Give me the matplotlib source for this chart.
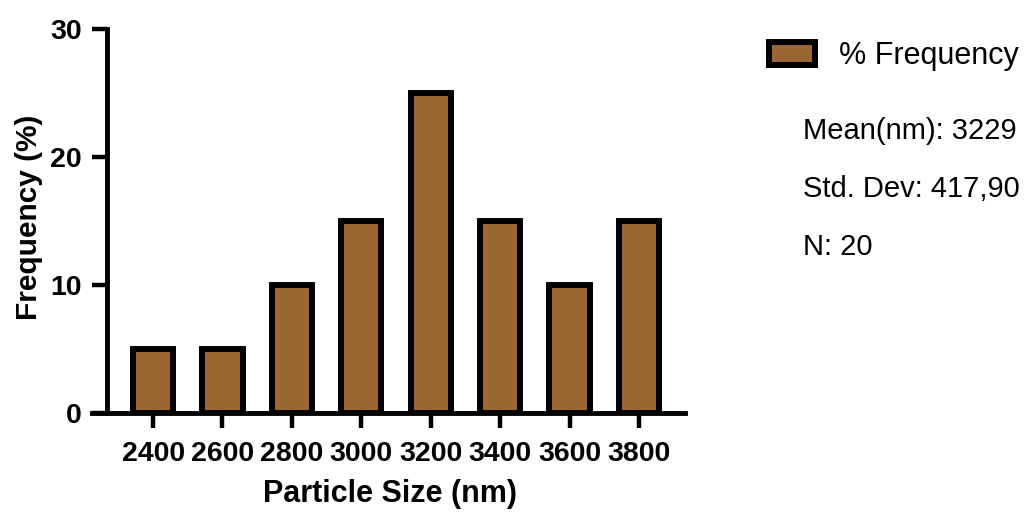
import matplotlib.pyplot as plt

# particle size histogram
sizes = ["2400", "2600", "2800", "3000", "3200", "3400", "3600", "3800"]
freq = [5, 5, 10, 15, 25, 15, 10, 15]
stats = ["Mean(nm): 3229", "Std. Dev: 417,90", "N: 20"]

plt.rcParams["font.family"] = ["Liberation Sans", "DejaVu Sans"]

W, H = 1035, 514
fig = plt.figure(figsize=(W / 100, H / 100), dpi=100)
ax = fig.add_axes([107 / W, (H - 413) / H, (685 - 107) / W, (413 - 29) / H])

x = list(range(len(sizes)))
ax.bar(x, freq, width=0.58, color="#9a6634", edgecolor="black", linewidth=4.3,
       label="% Frequency", zorder=3)

ax.set_xlim(-0.664, 7.664)
ax.set_ylim(0, 30)
ax.set_yticks([0, 10, 20, 30])
ax.set_xticks(x)
ax.set_xticklabels(sizes)

for s in ["top", "right"]:
    ax.spines[s].set_visible(False)
for s in ["left", "bottom"]:
    ax.spines[s].set_linewidth(3.5)
ax.spines["bottom"].set_bounds(-0.664 - 15 / 69.3, 7.664)
ax.spines["bottom"].set_zorder(4)

ax.tick_params(axis="both", length=11, width=3.2, labelsize=20.5)
ax.tick_params(axis="x", pad=9)
ax.tick_params(axis="y", pad=7)
for lab in ax.get_xticklabels() + ax.get_yticklabels():
    lab.set_fontweight("bold")

ax.set_xlabel("Particle Size (nm)", fontsize=22, fontweight="bold")
ax.set_ylabel("Frequency (%)", fontsize=21.5, fontweight="bold")
ax.xaxis.set_label_coords(0.49, -0.172)
ax.yaxis.set_label_coords(-0.11, 0.51)

leg = ax.legend(loc="center left", bbox_to_anchor=(769 / W, 1 - 56 / H),
                bbox_transform=fig.transFigure, frameon=False, fontsize=22,
                handlelength=1.5, handleheight=0.8, handletextpad=0.8,
                borderpad=0, borderaxespad=0)

for i, t in enumerate(stats):
    fig.text(803 / W, 1 - (131 + 58 * i) / H, t, fontsize=21, va="center", ha="left")

fig.savefig("out.png", dpi=100)
